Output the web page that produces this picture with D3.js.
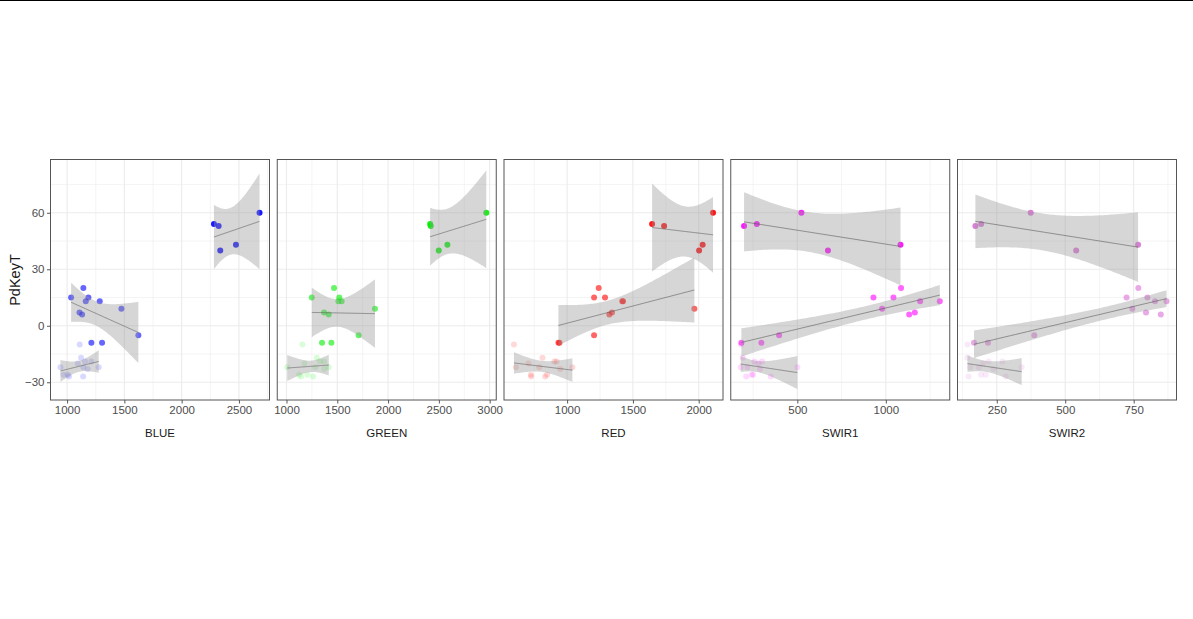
<!DOCTYPE html>
<html>
<head>
<meta charset="utf-8">
<script src="https://cdn.jsdelivr.net/npm/d3@7"></script>
<style>
  body { margin: 0; background: #fff; }
  svg { display: block; font-family: "Liberation Sans", Arial, sans-serif; }
</style>
</head>
<body>
<div id="chart"></div>
<script>
// ---- data ----
const bands = ["BLUE", "GREEN", "RED", "SWIR1", "SWIR2"];
const bandColors = ["#0000FF", "#00EE00", "#FF0000", "#FF00FF", "#DA70D6"];

// PdKeyT values, shared by every band (three clusters)
const topY = [54, 53, 60, 40, 43];
const midY = [20, 15, 15, 13, 13, 9, 7, 6, -5, -9, -9];
const lowY = [-10, -17, -19, -19, -20, -22, -22, -22, -23, -26, -26, -27, -27];

// band reflectance for each cluster, same order as the y arrays
const blueTop = [2282, 2323, 2680, 2337, 2474];
const blueMid = [1142, 1035, 1186, 1163, 1285, 1474, 1108, 1131, 1622, 1212, 1305];
const blueLow = [1110, 1122, 1157, 1212, 1093, 942, 1142, 1276, 1180, 968, 1006, 1017, 1140];

const greenTop = [2414, 2420, 2967, 2499, 2584];
const greenMid = [1468, 1249, 1520, 1511, 1543, 1871, 1370, 1416, 1710, 1350, 1442];
const greenLow = [1157, 1298, 1370, 1330, 1177, 1007, 1285, 1416, 1370, 1124, 1206, 1144, 1262];

const redTop = [1646, 1737, 2109, 2003, 2030];
const redMid = [1240, 1205, 1288, 1419, 1425, 1967, 1341, 1321, 1205, 934, 942];
const redLow = [596, 813, 904, 920, 707, 611, 788, 1040, 947, 725, 848, 727, 833];

const swir1Top = [271, 199, 523, 673, 1083];
const swir1Mid = [1086, 930, 1043, 1194, 1305, 979, 1164, 1132, 397, 184, 297];
const swir1Low = [182, 192, 258, 301, 280, 180, 218, 500, 289, 242, 250, 211, 350];

const swir2Top = [193, 172, 374, 540, 766];
const swir2Mid = [767, 724, 800, 828, 870, 745, 795, 849, 387, 167, 218];
const swir2Low = [143, 143, 220, 271, 200, 153, 185, 341, 238, 193, 210, 147, 283];

// tick labels
const yTicks = [-30, 0, 30, 60];
const blueTicks = [1000, 1500, 2000, 2500];
const greenTicks = [1000, 1500, 2000, 2500, 3000];
const redTicks = [1000, 1500, 2000];
const swir1Ticks = [500, 1000];
const swir2Ticks = [250, 500, 750];

// two-sided 95% t quantiles by degrees of freedom
const tCrit = [NaN, 12.706, 4.303, 3.182, 2.776, 2.571, 2.447, 2.365, 2.306, 2.262, 2.228, 2.201, 2.179, 2.160];

// ---- layout ----
const width = 1193, height = 619;
const panelTop = 159.5, panelBottom = 400;
const panelLeft0 = 50.5, panelStep = 226.75, panelW = 219;
const groupAlpha = [0.9, 0.6, 0.15];

const svg = d3.select("#chart").append("svg")
    .attr("width", width)
    .attr("height", height);

svg.append("rect")
    .attr("x", 0).attr("y", 0)
    .attr("width", width).attr("height", 1)
    .attr("fill", "#000");

// linear fit with 95% confidence band, like geom_smooth(method = "lm")
function fitLm(xs, ys) {
    const n = xs.length;
    const mx = d3.mean(xs), my = d3.mean(ys);
    let sxx = 0, sxy = 0;
    xs.forEach((x, i) => { sxx += (x - mx) ** 2; sxy += (x - mx) * (ys[i] - my); });
    const b = sxy / sxx, a = my - b * mx;
    let sse = 0;
    xs.forEach((x, i) => { sse += (ys[i] - (a + b * x)) ** 2; });
    const s = Math.sqrt(sse / (n - 2));
    const t = tCrit[n - 2];
    const [x0, x1] = d3.extent(xs);
    return d3.range(80).map(k => {
        const x = x0 + (x1 - x0) * k / 79;
        const fit = a + b * x;
        const se = s * Math.sqrt(1 / n + (x - mx) ** 2 / sxx);
        return { x, fit, lo: fit - t * se, hi: fit + t * se };
    });
}

const bandGroups = [
    [blueTop, blueMid, blueLow],
    [greenTop, greenMid, greenLow],
    [redTop, redMid, redLow],
    [swir1Top, swir1Mid, swir1Low],
    [swir2Top, swir2Mid, swir2Low]
];
const bandTicks = [blueTicks, greenTicks, redTicks, swir1Ticks, swir2Ticks];
const groupY = [topY, midY, lowY];

const panels = bands.map((band, i) => {
    const groups = bandGroups[i].map((xs, g) => ({
        xs, ys: groupY[g], alpha: groupAlpha[g], fit: fitLm(xs, groupY[g])
    }));
    return { band, color: bandColors[i], ticks: bandTicks[i], groups };
});

// shared y scale: points and ribbons, expanded by 5%
const yVals = [];
panels.forEach(p => p.groups.forEach(g => {
    yVals.push(...g.ys);
    g.fit.forEach(d => yVals.push(d.lo, d.hi));
}));
const [yMin, yMax] = d3.extent(yVals);
const yPad = (yMax - yMin) * 0.05;
const y = d3.scaleLinear()
    .domain([yMin - yPad, yMax + yPad])
    .range([panelBottom, panelTop]);

function minorBreaks(ticks, domain) {
    const step = ticks[1] - ticks[0];
    const out = [];
    for (let v = ticks[0] - step / 2; v <= ticks[ticks.length - 1] + step / 2 + 1e-9; v += step)
        out.push(v);
    return out.filter(v => v >= domain[0] && v <= domain[1]);
}

panels.forEach((p, i) => {
    const left = panelLeft0 + i * panelStep;
    const allX = p.groups.flatMap(g => g.xs);
    const [xMin, xMax] = d3.extent(allX);
    const xPad = (xMax - xMin) * 0.05;
    const x = d3.scaleLinear()
        .domain([xMin - xPad, xMax + xPad])
        .range([left, left + panelW]);

    const g = svg.append("g");

    const clipId = "clip" + i;
    svg.append("clipPath").attr("id", clipId)
        .append("rect")
        .attr("x", left).attr("y", panelTop)
        .attr("width", panelW).attr("height", panelBottom - panelTop);

    // grid
    const grid = g.append("g").attr("clip-path", `url(#${clipId})`);
    grid.selectAll(".xminor")
        .data(minorBreaks(p.ticks, x.domain()))
        .join("line")
        .attr("x1", d => x(d)).attr("x2", d => x(d))
        .attr("y1", panelTop).attr("y2", panelBottom)
        .attr("stroke", "#ebebeb").attr("stroke-width", 0.55);
    grid.selectAll(".yminor")
        .data(minorBreaks(yTicks, y.domain()))
        .join("line")
        .attr("x1", left).attr("x2", left + panelW)
        .attr("y1", d => y(d)).attr("y2", d => y(d))
        .attr("stroke", "#ebebeb").attr("stroke-width", 0.55);
    grid.selectAll(".xmajor")
        .data(p.ticks)
        .join("line")
        .attr("x1", d => x(d)).attr("x2", d => x(d))
        .attr("y1", panelTop).attr("y2", panelBottom)
        .attr("stroke", "#ebebeb").attr("stroke-width", 1.1);
    grid.selectAll(".ymajor")
        .data(yTicks)
        .join("line")
        .attr("x1", left).attr("x2", left + panelW)
        .attr("y1", d => y(d)).attr("y2", d => y(d))
        .attr("stroke", "#ebebeb").attr("stroke-width", 1.1);

    const plot = g.append("g").attr("clip-path", `url(#${clipId})`);

    // points
    p.groups.forEach(gr => {
        plot.append("g").selectAll("circle")
            .data(gr.xs.map((v, k) => [v, gr.ys[k]]))
            .join("circle")
            .attr("cx", d => x(d[0]))
            .attr("cy", d => y(d[1]))
            .attr("r", 3)
            .attr("fill", p.color)
            .attr("fill-opacity", gr.alpha);
    });

    // smooth ribbons and lines
    const area = d3.area().x(d => x(d.x)).y0(d => y(d.lo)).y1(d => y(d.hi));
    const line = d3.line().x(d => x(d.x)).y(d => y(d.fit));
    p.groups.forEach(gr => {
        plot.append("path")
            .attr("d", area(gr.fit))
            .attr("fill", "#999999")
            .attr("fill-opacity", 0.4);
        plot.append("path")
            .attr("d", line(gr.fit))
            .attr("fill", "none")
            .attr("stroke", "#5a5a5a")
            .attr("stroke-width", 0.6);
    });

    // border
    g.append("rect")
        .attr("x", left).attr("y", panelTop)
        .attr("width", panelW).attr("height", panelBottom - panelTop)
        .attr("fill", "none")
        .attr("stroke", "#555")
        .attr("stroke-width", 1);

    // x axis
    const xAxis = g.append("g")
        .attr("transform", `translate(0,${panelBottom})`)
        .call(d3.axisBottom(x).tickValues(p.ticks).tickSize(3.5).tickPadding(2.5).tickFormat(d3.format("d")));
    xAxis.select(".domain").remove();
    xAxis.selectAll("line").attr("stroke", "#555");
    xAxis.selectAll("text")
        .attr("fill", "#4d4d4d")
        .style("font-size", "11.5px")
        .style("font-family", "'Liberation Sans', Arial, sans-serif");

    // band label below the panel
    g.append("text")
        .attr("x", left + panelW / 2)
        .attr("y", 437)
        .attr("text-anchor", "middle")
        .attr("fill", "#1a1a1a")
        .style("font-size", "11.5px")
        .text(p.band);

    if (i === 0) {
        const yAxis = g.append("g")
            .attr("transform", `translate(${left},0)`)
            .call(d3.axisLeft(y).tickValues(yTicks).tickSize(3.5).tickPadding(2.5));
        yAxis.select(".domain").remove();
        yAxis.selectAll("line").attr("stroke", "#555");
        yAxis.selectAll("text")
            .attr("fill", "#4d4d4d")
            .style("font-size", "11.5px")
            .style("font-family", "'Liberation Sans', Arial, sans-serif");
    }
});

// y axis title
svg.append("text")
    .attr("transform", "translate(20,280) rotate(-90)")
    .attr("text-anchor", "middle")
    .attr("fill", "#1a1a1a")
    .style("font-size", "14.5px")
    .text("PdKeyT");
</script>
</body>
</html>
